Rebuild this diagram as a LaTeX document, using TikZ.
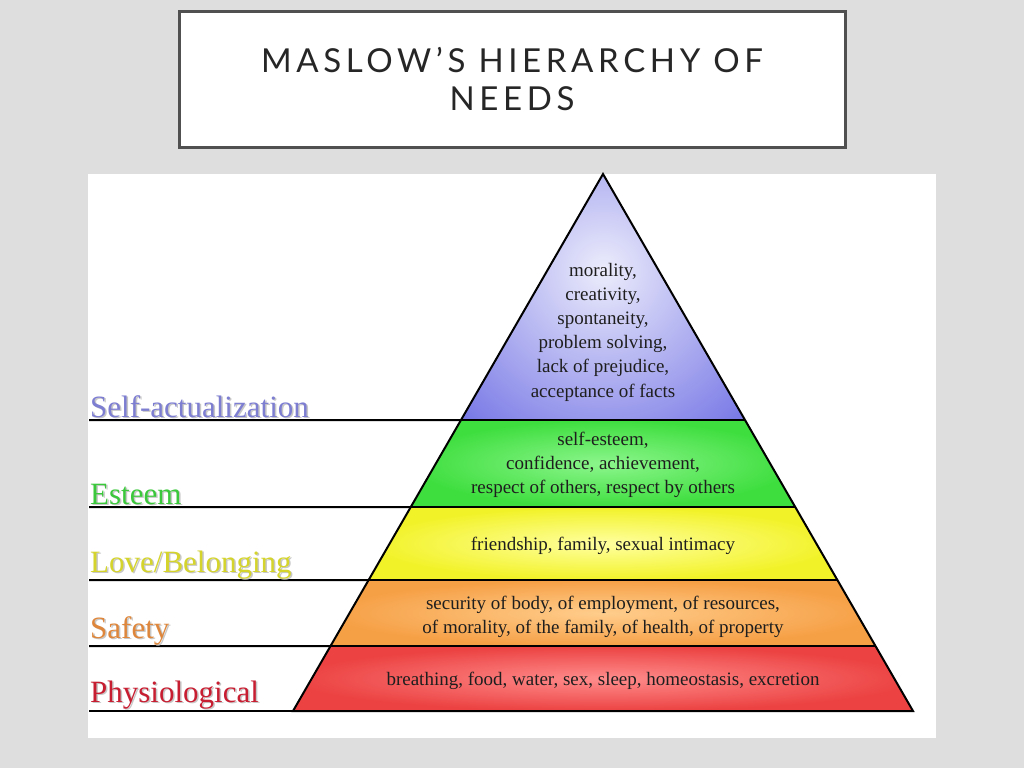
\documentclass[tikz,border=0pt]{standalone}
\usepackage{fontspec}
\setmainfont{Liberation Serif}
\newfontfamily\titlefont[LetterSpace=14]{Lato}
\usetikzlibrary{calc}
\definecolor{bggray}{RGB}{222,222,222}
\definecolor{boxgray}{RGB}{80,80,80}
\definecolor{titlegray}{RGB}{38,38,38}
\definecolor{cSelf}{RGB}{125,125,210}
\definecolor{cEst}{RGB}{60,200,60}
\definecolor{cLove}{RGB}{212,212,45}
\definecolor{cSafe}{RGB}{222,135,60}
\definecolor{cPhys}{RGB}{200,30,50}
\definecolor{txtgray}{RGB}{30,30,30}
\begin{document}
\begin{tikzpicture}[x=1pt,y=-1pt,
  lab/.style={anchor=base west,inner sep=0pt,font=\fontsize{31}{31}\selectfont},
  labshadow/.style={lab,text=black!22},
  layertext/.style={align=center,inner sep=0pt,text=txtgray,font=\fontsize{19}{24.2}\selectfont},
  outline/.style={draw=black,line width=2pt,line join=miter},
  rule/.style={draw=black,line width=2pt}]
\useasboundingbox (0,0) rectangle (1024,768);
\fill[bggray] (0,0) rectangle (1024,768);
% title box
\draw[fill=white,draw=boxgray,line width=3pt] (179,12) rectangle (845,147);
\node[anchor=base,inner sep=0pt,text=titlegray,font=\titlefont\fontsize{33}{38}\selectfont] (title1) at (512,72) {MASLOW’S HIERARCHY OF};
\node[anchor=base,inner sep=0pt,text=titlegray,font=\titlefont\fontsize{33}{38}\selectfont] (title2) at (512,110) {NEEDS};
% picture area
\fill[white] (88,174) rectangle (936,738);
% pyramid geometry
\coordinate (a) at (603,174);
\coordinate (bl) at (293,711);
\coordinate (br) at (913,711);
\coordinate (l1) at ($(a)!0.4581!(bl)$);
\coordinate (r1) at ($(a)!0.4581!(br)$);
\coordinate (l2) at ($(a)!0.6201!(bl)$);
\coordinate (r2) at ($(a)!0.6201!(br)$);
\coordinate (l3) at ($(a)!0.7561!(bl)$);
\coordinate (r3) at ($(a)!0.7561!(br)$);
\coordinate (l4) at ($(a)!0.8790!(bl)$);
\coordinate (r4) at ($(a)!0.8790!(br)$);
% shaded layers
\begin{scope}
\clip (a) -- (l1) -- (r1) -- cycle;
\shade[inner color={rgb,255:red,236;green,236;blue,252},outer color={rgb,255:red,108;green,108;blue,228}] (603,270) circle (225);
\end{scope}
\shade[inner color={rgb,255:red,140;green,246;blue,140},outer color={rgb,255:red,62;green,222;blue,62}] (l1) -- (l2) -- (r2) -- (r1) -- cycle;
\shade[inner color={rgb,255:red,255;green,255;blue,160},outer color={rgb,255:red,242;green,242;blue,40}] (l2) -- (l3) -- (r3) -- (r2) -- cycle;
\shade[inner color={rgb,255:red,255;green,205;blue,140},outer color={rgb,255:red,246;green,160;blue,70}] (l3) -- (l4) -- (r4) -- (r3) -- cycle;
\shade[inner color={rgb,255:red,255;green,140;blue,140},outer color={rgb,255:red,236;green,66;blue,66}] (l4) -- (bl) -- (br) -- (r4) -- cycle;
% outline and dividers
\draw[outline] (a) -- (bl) -- (br) -- cycle;
\draw[rule] (l1) -- (r1);
\draw[rule] (l2) -- (r2);
\draw[rule] (l3) -- (r3);
\draw[rule] (l4) -- (r4);
% left rules
\coordinate (h1) at (89,420);
\coordinate (h2) at (89,507);
\coordinate (h3) at (89,580);
\coordinate (h4) at (89,646);
\coordinate (h5) at (89,711);
\draw[rule] (h1) -- (l1);
\draw[rule] (h2) -- (l2);
\draw[rule] (h3) -- (l3);
\draw[rule] (h4) -- (l4);
\draw[rule] (h5) -- (bl);
% labels with soft shadow
\node[labshadow] (s1) at (91.5,418.5) {Self-actualization};
\node[lab,text=cSelf] (n1) at (90,417) {Self-actualization};
\node[labshadow] (s2) at (91.5,505.5) {Esteem};
\node[lab,text=cEst] (n2) at (90,504) {Esteem};
\node[labshadow] (s3) at (91.5,573.5) {Love/Belonging};
\node[lab,text=cLove] (n3) at (90,572) {Love/Belonging};
\node[labshadow] (s4) at (91.5,639.5) {Safety};
\node[lab,text=cSafe] (n4) at (90,638) {Safety};
\node[labshadow] (s5) at (91.5,703.5) {Physiological};
\node[lab,text=cPhys] (n5) at (90,702) {Physiological};
% layer texts
\node[layertext] (t1) at (603,332) {morality,\\creativity,\\spontaneity,\\problem solving,\\lack of prejudice,\\acceptance of facts};
\node[layertext] (t2) at (603,465) {self-esteem,\\confidence, achievement,\\respect of others, respect by others};
\node[layertext] (t3) at (603,546) {friendship, family, sexual intimacy};
\node[layertext] (t4) at (603,617) {security of body, of employment, of resources,\\of morality, of the family, of health, of property};
\node[layertext] (t5) at (603,681) {breathing, food, water, sex, sleep, homeostasis, excretion};
\end{tikzpicture}
\end{document}
